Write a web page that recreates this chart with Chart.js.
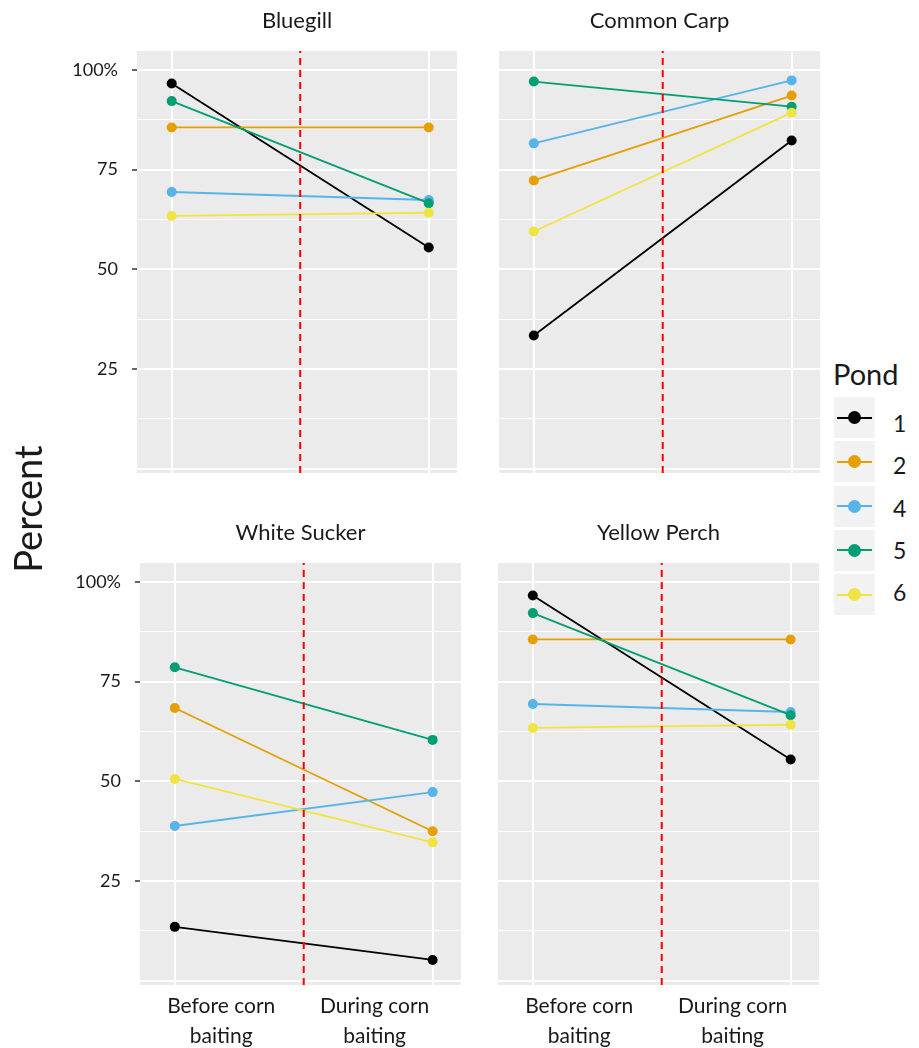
<!DOCTYPE html>
<html>
<head>
<meta charset="utf-8">
<script src="https://cdn.jsdelivr.net/npm/chart.js@4.4.1/dist/chart.umd.min.js"></script>
<style>
  html, body { margin: 0; padding: 0; background: #ffffff; }
  body { width: 919px; height: 1048px; position: relative; overflow: hidden; font-family: Lato, "Open Sans", sans-serif; color: #1a1a1a; }
  canvas { position: absolute; }
  .abs { position: absolute; white-space: nowrap; }
</style>
</head>
<body>
<canvas id="c1" width="470" height="490" style="left:0px;top:0px;width:470px;height:490px"></canvas>
<canvas id="c2" width="360" height="490" style="left:470px;top:0px;width:360px;height:490px"></canvas>
<canvas id="c3" width="470" height="558" style="left:0px;top:490px;width:470px;height:558px"></canvas>
<canvas id="c4" width="360" height="558" style="left:470px;top:490px;width:360px;height:558px"></canvas>
<div id="ytitle" class="abs" style="left:-73px;top:490px;width:200px;height:38px;line-height:38px;font-size:38px;text-align:center;transform:rotate(-90deg);">Percent</div>
<div id="legend"></div>
<script>
// ---------------- data ----------------
const CATEGORY_X = [1, 2];                       // Before / During corn baiting
const X_LABELS = [["Before corn", "baiting"], ["During corn", "baiting"]];
const X_LABEL_POS = [1.18, 1.775];
const BAIT_START = 1.5;                          // red dashed line
const X_MIN = 0.865, X_MAX = 2.11;
const Y_MIN = -1.08, Y_MAX = 104.77;
const Y_TICKS = [0, 12.5, 25, 37.5, 50, 62.5, 75, 87.5, 100];
const Y_LABELED = [25, 50, 75, 100];
const PONDS = ["1", "2", "4", "5", "6"];
const POND_COLORS = ["#000000", "#E69F00", "#56B4E9", "#009E73", "#F0E442"];
const SPECIES = ["Bluegill", "Common Carp", "White Sucker", "Yellow Perch"];
// rows follow PONDS order: [before, during]
const BLUEGILL     = [[96.6, 55.5], [85.6, 85.6], [69.4, 67.4], [92.2, 66.6], [63.4, 64.2]];
const COMMON_CARP  = [[33.4, 82.3], [72.3, 93.6], [81.6, 97.4], [97.1, 90.8], [59.5, 89.3]];
const WHITE_SUCKER = [[13.5, 5.2], [68.4, 37.5], [38.8, 47.3], [78.6, 60.4], [50.6, 34.7]];
const YELLOW_PERCH = [[96.6, 55.5], [85.6, 85.6], [69.4, 67.4], [92.2, 66.6], [63.4, 64.2]];

// ---------------- helpers ----------------
const FONT = 'Lato, "Open Sans", sans-serif';
const TEXT = '#1a1a1a';

const panelPlugin = {
  id: 'panelBg',
  beforeDraw(chart) {
    const a = chart.chartArea, ctx = chart.ctx;
    ctx.save();
    ctx.fillStyle = '#EBEBEB';
    ctx.fillRect(a.left, a.top, a.right - a.left, a.bottom - a.top);
    ctx.restore();
  },
  afterDraw(chart) {
    const t = chart.options.plugins.panelBg.title;
    const a = chart.chartArea, ctx = chart.ctx;
    ctx.save();
    ctx.fillStyle = TEXT;
    ctx.font = '22px ' + FONT;
    ctx.textAlign = 'center';
    ctx.textBaseline = 'alphabetic';
    ctx.fillText(t, (a.left + a.right) / 2, a.top - 23);
    ctx.restore();
  }
};

function noPad(s) {
  s.paddingTop = 0; s.paddingBottom = 0; s.paddingLeft = 0; s.paddingRight = 0;
}

function makePanel(id, title, values, cfg) {
  const datasets = PONDS.map((p, i) => ({
    label: 'Pond ' + p,
    data: CATEGORY_X.map((x, j) => ({ x: x, y: values[i][j] })),
    borderColor: POND_COLORS[i],
    backgroundColor: POND_COLORS[i],
    borderWidth: 1.8,
    pointRadius: 5,
    pointBorderWidth: 0,
    pointHoverRadius: 5,
    tension: 0,
    order: PONDS.length - i
  }));
  datasets.push({
    label: 'baiting',
    data: [{ x: BAIT_START, y: Y_MIN }, { x: BAIT_START, y: Y_MAX }],
    borderColor: '#FF0000',
    borderWidth: 2,
    borderDash: [7, 5],
    pointRadius: 0,
    order: -1
  });

  const scales = {
    x: {
      type: 'linear', min: X_MIN, max: X_MAX, position: 'bottom',
      afterBuildTicks: s => { s.ticks = CATEGORY_X.map(v => ({ value: v })); },
      grid: { color: '#FFFFFF', lineWidth: 2, drawTicks: false },
      border: { display: false },
      ticks: { display: false },
      afterFit: s => { s.height = 0; noPad(s); }
    },
    y: {
      type: 'linear', min: Y_MIN, max: Y_MAX,
      afterBuildTicks: s => { s.ticks = Y_TICKS.map(v => ({ value: v })); },
      grid: {
        color: '#FFFFFF',
        lineWidth: c => (c.tick && c.tick.value % 25 === 0) ? 2 : 1,
        drawTicks: cfg.showY,
        tickLength: 5,
        tickWidth: 1.5,
        tickColor: c => (c.tick && Y_LABELED.includes(c.tick.value)) ? '#333333' : 'rgba(0,0,0,0)'
      },
      border: { display: false },
      ticks: {
        display: cfg.showY,
        padding: 14,
        color: TEXT,
        font: { family: FONT, size: 18 },
        callback: v => v === 100 ? '100%' : (Y_LABELED.includes(v) ? String(v) : '')
      },
      afterFit: s => { s.width = cfg.yWidth; noPad(s); }
    }
  };
  if (cfg.showX) {
    scales.xl = {
      type: 'linear', min: X_MIN, max: X_MAX, position: 'bottom',
      afterBuildTicks: s => { s.ticks = X_LABEL_POS.map(v => ({ value: v })); },
      grid: { display: false, drawTicks: false },
      border: { display: false },
      ticks: {
        autoSkip: false, maxRotation: 0, minRotation: 0,
        padding: 6, color: TEXT,
        font: { family: FONT, size: 21, lineHeight: 1.43 },
        callback: (v, i) => X_LABELS[i]
      },
      afterFit: s => { s.height = cfg.xHeight; noPad(s); }
    };
  }

  return new Chart(document.getElementById(id), {
    type: 'line',
    data: { datasets: datasets },
    options: {
      responsive: false,
      animation: false,
      events: [],
      layout: { padding: cfg.padding },
      plugins: { legend: { display: false }, tooltip: { enabled: false }, panelBg: { title: title } },
      scales: scales
    },
    plugins: [panelPlugin]
  });
}

makePanel('c1', SPECIES[0], BLUEGILL,
  { showY: true, showX: false, yWidth: 137, padding: { left: 0, right: 13, top: 51, bottom: 17 } });
makePanel('c2', SPECIES[1], COMMON_CARP,
  { showY: false, showX: false, yWidth: 0, padding: { left: 29, right: 10, top: 51, bottom: 17 } });
makePanel('c3', SPECIES[2], WHITE_SUCKER,
  { showY: true, showX: true, yWidth: 140, xHeight: 63, padding: { left: 0, right: 9, top: 73, bottom: 0 } });
makePanel('c4', SPECIES[3], YELLOW_PERCH,
  { showY: false, showX: true, yWidth: 0, xHeight: 63, padding: { left: 28, right: 11, top: 73, bottom: 0 } });

// ---------------- legend ----------------
const legend = document.getElementById('legend');
function addEl(html, style) {
  const d = document.createElement('div');
  d.className = 'abs';
  d.style.cssText += style;
  d.textContent = html;
  legend.appendChild(d);
  return d;
}
addEl('Pond', 'left:833px;top:359px;font-size:29px;line-height:29px;');
PONDS.forEach((p, i) => {
  const top = 397 + i * 44.3;
  addEl('', `left:834px;top:${top}px;width:41px;height:41px;background:#F2F2F2;`);
  addEl('', `left:837px;top:${top + 19.5}px;width:35px;height:2px;background:${POND_COLORS[i]};`);
  addEl('', `left:848px;top:${top + 14}px;width:13px;height:13px;border-radius:50%;background:${POND_COLORS[i]};`);
  const cy = 423.3 + i * 42.1;
  addEl(p, `left:893px;top:${cy - 12}px;font-size:23px;line-height:24px;`);
});
</script>
</body>
</html>
